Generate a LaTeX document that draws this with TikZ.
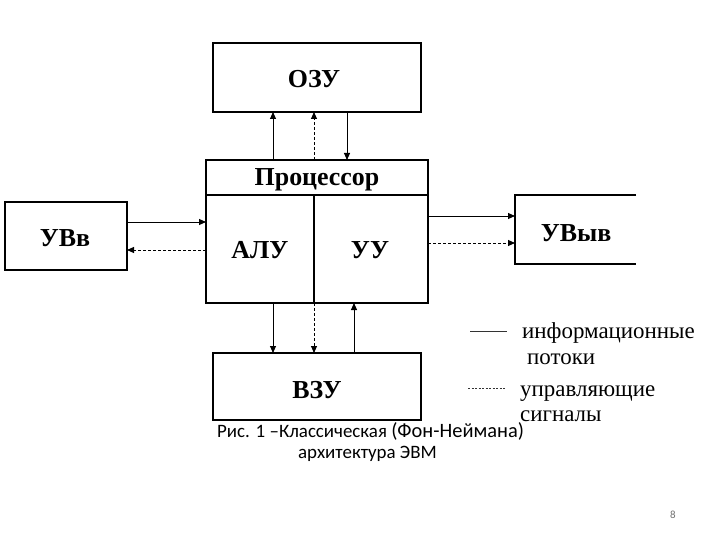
\documentclass[tikz,border=0pt]{standalone}
\usepackage{fontspec}
\setmainfont{Liberation Serif}
\newfontfamily\capfont{Carlito}
\usetikzlibrary{arrows.meta,calc}
\begin{document}
\begin{tikzpicture}[x=1bp,y=-1bp,
  box/.style={inner sep=0pt,outer sep=0pt,line width=1.2bp},
  drawnbox/.style={box,draw},
  lbl/.style={inner sep=0pt,anchor=base,font=\bfseries\fontsize{26}{28}\selectfont},
  info/.style={line width=0.9bp,-{Triangle[length=7bp,width=6bp]}},
  ctrl/.style={info,dash pattern=on 3bp off 2bp},
  legtxt/.style={inner sep=0pt,anchor=base west,font=\fontsize{23}{25}\selectfont},
  captxt/.style={inner sep=0pt,anchor=base,font=\capfont\fontsize{19}{21}\selectfont}
]
\useasboundingbox (0,0) rectangle (720,540);
\fill[white] (0,0) rectangle (720,540);

% boxes
\node[drawnbox,minimum width=208bp,minimum height=69bp] (ozu) at (317,77.5) {};
\node[drawnbox,minimum width=222bp,minimum height=143bp] (proc) at (317,231.5) {};
\node[drawnbox,minimum width=122bp,minimum height=68bp] (uvv) at (66,236) {};
\node[drawnbox,minimum width=208bp,minimum height=67bp] (vzu) at (317,386.5) {};
\node[box,minimum width=121bp,minimum height=69bp] (uvyv) at (575.5,229.5) {};
\draw[line width=1.2bp] (uvyv.north east) -- (uvyv.north west) -- (uvyv.south west) -- (uvyv.south east);

% processor inner lines
\coordinate (hl) at (206,195);
\coordinate (hr) at (428,195);
\coordinate (dv) at (314,195);
\draw[line width=1.2bp] (hl) -- (hr);
\draw[line width=1.2bp] (dv) -- (dv |- proc.south);

% labels
\node[lbl] (tozu) at (314,88) {ОЗУ};
\node[lbl] (tproc) at (317,186) {Процессор};
\node[lbl] (talu) at (260,259) {АЛУ};
\node[lbl] (tuu) at (370,259) {УУ};
\node[lbl] (tuvv) at (65,247) {УВв};
\node[lbl] (tuvyv) at (576,242) {УВыв};
\node[lbl] (tvzu) at (317,398) {ВЗУ};

% connector x/y positions
\coordinate (xa) at (273,0);
\coordinate (xb) at (314,0);
\coordinate (xc) at (347,0);
\coordinate (xd) at (354,0);
\coordinate (ya) at (0,222);
\coordinate (yb) at (0,250);
\coordinate (yc) at (0,216);
\coordinate (yd) at (0,243);

% processor <-> OZU
\draw[info] (proc.north -| xa) -- (ozu.south -| xa);
\draw[ctrl] (proc.north -| xb) -- (ozu.south -| xb);
\draw[info] (ozu.south -| xc) -- (proc.north -| xc);

% UVv <-> processor
\draw[info] (uvv.east |- ya) -- (proc.west |- ya);
\draw[ctrl] (proc.west |- yb) -- (uvv.east |- yb);

% processor -> UVyv
\draw[info] (proc.east |- yc) -- (uvyv.west |- yc);
\draw[ctrl] (proc.east |- yd) -- (uvyv.west |- yd);

% processor <-> VZU
\draw[info] (proc.south -| xa) -- (vzu.north -| xa);
\draw[ctrl] (proc.south -| xb) -- (vzu.north -| xb);
\draw[info] (vzu.north -| xd) -- (proc.south -| xd);

% legend
\coordinate (l1a) at (470,331);
\coordinate (l1b) at (507,331);
\coordinate (l2a) at (468,388);
\coordinate (l2b) at (505,388);
\draw[line width=0.6bp,black!80] (l1a) -- (l1b);
\draw[line width=0.6bp,black!80,dash pattern=on 2bp off 1.5bp] (l2a) -- (l2b);
\node[legtxt] (g1) at (522,338) {информационные};
\node[legtxt] (g2) at (527,364) {потоки};
\node[legtxt] (g3) at (520,396) {управляющие};
\node[legtxt] (g4) at (520,421) {сигналы};

% caption
\node[inner sep=0pt,anchor=base west] (cap1) at (217,437) {\capfont\fontsize{19}{21}\selectfont Рис. 1 –Классическая \fontsize{20.5}{22}\selectfont(Фон-Неймана)};
\node[captxt] (cap2) at (367.5,458) {архитектура ЭВМ};

% page number
\node[inner sep=0pt,anchor=base,font=\capfont\fontsize{11}{12}\selectfont,text=black!55] (pg) at (673,518) {8};
\end{tikzpicture}
\end{document}
